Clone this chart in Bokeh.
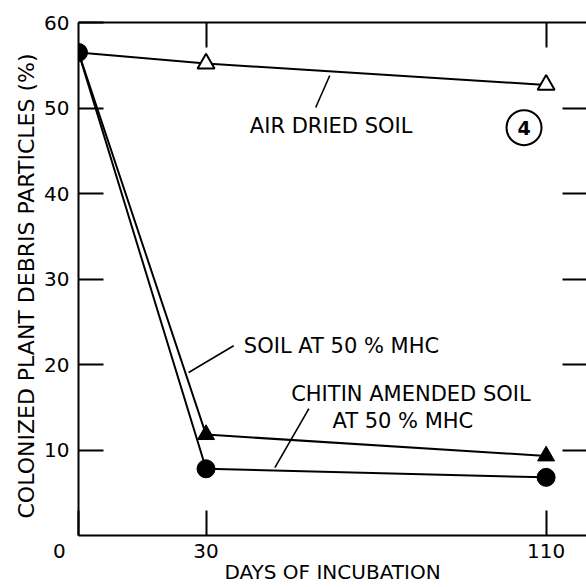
from bokeh.plotting import figure
from bokeh.models import Range1d, LinearAxis, FixedTicker, Label
from bokeh.embed import file_html
from bokeh.resources import INLINE

# ---- data ----
days = [0, 30, 110]
air_dried = [56.5, 55.2, 52.7]
soil_50_mhc = [56.5, 11.8, 9.3]
chitin_50_mhc = [56.5, 7.8, 6.8]

y_ticks = [10, 20, 30, 40, 50, 60]
x_ticks = [0, 30, 110]
x_tick_labels = ["0", "30", "110"]

FONT = "DejaVu Sans"
BLACK = "black"
NBSP = "\u00a0"

p = figure(width=586, height=587, output_backend="svg", toolbar_location=None,
           x_range=Range1d(0, 119.5), y_range=Range1d(0, 60),
           min_border_left=78, min_border_top=22, min_border_bottom=52,
           min_border_right=0)
p.outline_line_color = None
p.grid.visible = False
p.background_fill_color = "white"
p.border_fill_color = "white"

# bottom axis; the "0" sits left of the corner, as in the original
xa = p.xaxis[0]
xa.ticker = FixedTicker(ticks=x_ticks)
overrides = {t: s for t, s in zip(x_ticks, x_tick_labels)}
overrides[0] = x_tick_labels[0] + NBSP * 6
xa.major_label_overrides = overrides
xa.major_tick_in = 25
xa.major_tick_out = 0
xa.minor_tick_line_color = None
xa.axis_line_width = 2
xa.major_tick_line_width = 2
xa.axis_line_color = BLACK
xa.major_tick_line_color = BLACK
xa.major_label_text_font = FONT
xa.major_label_text_font_size = "20px"
xa.major_label_text_color = BLACK
xa.major_label_standoff = 3
xa.axis_label = "DAYS OF INCUBATION"
xa.axis_label_text_font = FONT
xa.axis_label_text_font_style = "normal"
xa.axis_label_text_font_size = "20px"
xa.axis_label_text_color = BLACK
xa.axis_label_standoff = -6

# left axis
ya = p.yaxis[0]
ya.ticker = FixedTicker(ticks=y_ticks)
ya.major_tick_in = 25
ya.major_tick_out = 0
ya.minor_tick_line_color = None
ya.axis_line_width = 2
ya.major_tick_line_width = 2
ya.axis_line_color = BLACK
ya.major_tick_line_color = BLACK
ya.major_label_text_font = FONT
ya.major_label_text_font_size = "20px"
ya.major_label_text_color = BLACK
ya.major_label_standoff = 9
ya.axis_label = "COLONIZED PLANT DEBRIS PARTICLES (%)" + NBSP * 2
ya.axis_label_text_font = FONT
ya.axis_label_text_font_style = "normal"
ya.axis_label_text_font_size = "22px"
ya.axis_label_text_color = BLACK
ya.axis_label_standoff = 2

# top frame line with inward ticks (minor ticks only, so no labels)
top = LinearAxis(ticker=FixedTicker(ticks=[], minor_ticks=x_ticks[1:]),
                 minor_tick_in=25, minor_tick_out=0, minor_tick_line_width=2,
                 minor_tick_line_color=BLACK, axis_line_width=2, axis_line_color=BLACK)
p.add_layout(top, "above")

# right side: inward ticks only
right = LinearAxis(ticker=FixedTicker(ticks=[], minor_ticks=y_ticks[:-1]),
                   minor_tick_in=24, minor_tick_out=0, minor_tick_line_width=2,
                   minor_tick_line_color=BLACK, axis_line_color=None)
p.add_layout(right, "right")

# ---- series ----
p.line(days, air_dried, line_color=BLACK, line_width=2)
p.line(days, soil_50_mhc, line_color=BLACK, line_width=2)
p.line(days, chitin_50_mhc, line_color=BLACK, line_width=2)

p.scatter(days[1:], air_dried[1:], marker="triangle", size=17,
          fill_color="white", line_color=BLACK, line_width=2)
p.scatter(days[1:], soil_50_mhc[1:], marker="triangle", size=17,
          fill_color=BLACK, line_color=BLACK, line_width=1)
p.scatter(days, chitin_50_mhc, marker="circle", size=18,
          fill_color=BLACK, line_color=BLACK, line_width=1)

# ---- annotations ----
def label(x, y, text, align="left", size="21px", style="normal"):
    p.add_layout(Label(x=x, y=y, text=text, text_align=align, text_baseline="middle",
                       text_font=FONT, text_font_size=size, text_font_style=style,
                       text_color=BLACK))

label(40.3, 47.95, "AIR DRIED SOIL")
label(38.9, 22.2, "SOIL AT 50 % MHC")
label(78.2, 16.6, "CHITIN AMENDED SOIL", align="center")
label(76.3, 13.45, "AT 50 % MHC", align="center")

lead_x0 = [55.8, 25.9, 46.2]
lead_y0 = [50.06, 19.06, 7.95]
lead_x1 = [59.1, 36.5, 54.2]
lead_y1 = [53.8, 22.2, 14.85]
p.segment(lead_x0, lead_y0, lead_x1, lead_y1, line_color=BLACK, line_width=1.6)

# figure number in circle
p.scatter([104.8], [47.7], marker="circle", size=35, fill_color=None,
          line_color=BLACK, line_width=2)
label(104.8, 47.7, "4", align="center", size="19px", style="bold")

open("out.html", "w").write(file_html(p, INLINE))
